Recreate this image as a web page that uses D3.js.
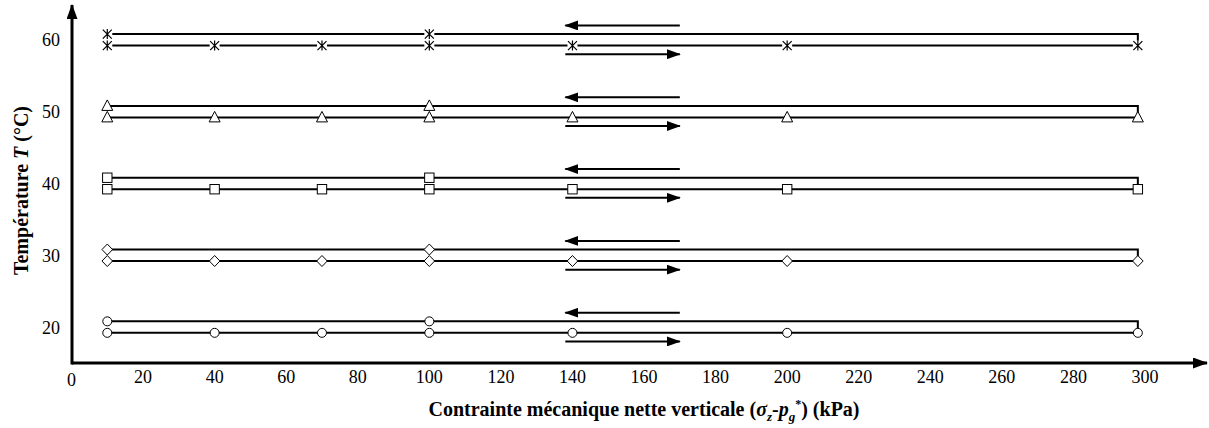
<!DOCTYPE html>
<html>
<head>
<meta charset="utf-8">
<script src="https://cdn.jsdelivr.net/npm/d3@7/dist/d3.min.js"></script>
</head>
<body style="margin:0;background:#fff">
<svg id="c" width="1209" height="428" style="display:block"></svg>
<script>
// ---- data ----
const temperatures = [20, 30, 40, 50, 60];
const markerTypes = ["circle", "diamond", "square", "triangle", "asterisk"];
const loadingT = [19.2, 29.2, 39.2, 49.2, 59.2];     // loading path (lower line)
const unloadingT = [20.8, 30.8, 40.8, 50.8, 60.8];   // unloading path (upper line)
const loadingX = [10, 40, 70, 100, 140, 200, 298];   // loading stress steps (kPa)
const unloadingX = [298, 100, 10];                   // unloading stress steps (kPa)
const unloadMarkerX = [100, 10];                     // marked points on unloading
const arrowLoadX = [138, 170];                       // arrow pointing right (loading)
const arrowUnloadX = [170, 138];                     // arrow pointing left (unloading)
const arrowOffsetT = 1.2;
const xTicks = [0, 20, 40, 60, 80, 100, 120, 140, 160, 180, 200, 220, 240, 260, 280, 300];
const yTicks = [20, 30, 40, 50, 60];

// ---- scales ----
const svg = d3.select("#c");
const x = d3.scaleLinear().domain([0, 300]).range([71.5, 1145]);
const y = d3.scaleLinear().domain([15, 60]).range([363, 39.85]);
const x0 = 72, yAxisBottom = y(15);
const FONT = '"Liberation Serif", "Times New Roman", Times, serif';
function serif(sel) { return sel.attr("font-family", "Liberation Serif").style("font-family", FONT, "important"); }

// ---- arrow markers ----
const defs = svg.append("defs");
defs.append("marker").attr("id", "ah").attr("viewBox", "0 0 14 10")
  .attr("refX", 13).attr("refY", 5).attr("markerWidth", 14).attr("markerHeight", 10)
  .attr("markerUnits", "userSpaceOnUse").attr("orient", "auto")
  .append("path").attr("d", "M0,0 L14,5 L0,10 Z").attr("fill", "#000");
defs.append("marker").attr("id", "axh").attr("viewBox", "0 0 15 11")
  .attr("refX", 14).attr("refY", 5.5).attr("markerWidth", 15).attr("markerHeight", 11)
  .attr("markerUnits", "userSpaceOnUse").attr("orient", "auto")
  .append("path").attr("d", "M0,0 L15,5.5 L0,11 Z").attr("fill", "#000");

// ---- axes ----
svg.append("line").attr("x1", x0).attr("y1", yAxisBottom).attr("x2", 1207).attr("y2", yAxisBottom)
  .attr("stroke", "#000").attr("stroke-width", 3).attr("marker-end", "url(#axh)");
svg.append("line").attr("x1", x0).attr("y1", yAxisBottom + 1.5).attr("x2", x0).attr("y2", 5)
  .attr("stroke", "#000").attr("stroke-width", 3).attr("marker-end", "url(#axh)");

serif(svg.append("g").selectAll("text").data(xTicks).join("text"))
  .attr("x", d => x(d)).attr("y", d => d === 0 ? 386 : 383)
  .attr("text-anchor", "middle").attr("font-size", 18).text(d => d);
serif(svg.append("g").selectAll("text").data(yTicks).join("text"))
  .attr("x", 60).attr("y", d => y(d) + 6.5)
  .attr("text-anchor", "end").attr("font-size", 18).text(d => d);

// axis titles
const xl = serif(svg.append("text")).attr("x", 644).attr("y", 416).attr("text-anchor", "middle")
  .attr("font-size", 20).attr("font-weight", "bold");
xl.append("tspan").text("Contrainte mécanique nette verticale (");
xl.append("tspan").attr("font-style", "italic").text("σ");
xl.append("tspan").attr("font-style", "italic").attr("font-size", 13).attr("dy", 5).text("z");
xl.append("tspan").attr("dy", -5).text("-");
xl.append("tspan").attr("font-style", "italic").text("p");
xl.append("tspan").attr("font-style", "italic").attr("font-size", 13).attr("dy", 5).text("g");
xl.append("tspan").attr("font-size", 12).attr("dy", -13).text("*");
xl.append("tspan").attr("dy", 8).text(") (kPa)");

const yl = serif(svg.append("text")).attr("transform", "translate(28,190.5) rotate(-90)")
  .attr("text-anchor", "middle").attr("font-size", 20).attr("font-weight", "bold");
yl.append("tspan").text("Température ");
yl.append("tspan").attr("font-style", "italic").text("T");
yl.append("tspan").text(" (°C)");

// ---- series ----
const line = d3.line().x(d => x(d[0])).y(d => y(d[1]));

function drawMarker(g, type, cx, cy) {
  let m;
  if (type === "circle") m = g.append("circle").attr("cx", cx).attr("cy", cy).attr("r", 4.5);
  else if (type === "square") m = g.append("rect").attr("x", cx - 4.7).attr("y", cy - 4.7).attr("width", 9.4).attr("height", 9.4);
  else if (type === "diamond") m = g.append("path").attr("d", `M${cx},${cy-5.5} L${cx+5.3},${cy} L${cx},${cy+5.5} L${cx-5.3},${cy} Z`);
  else if (type === "triangle") m = g.append("path").attr("d", `M${cx},${cy-6} L${cx+5.5},${cy+4.5} L${cx-5.5},${cy+4.5} Z`);
  else {
    g.append("rect").attr("x", cx - 5).attr("y", cy - 5).attr("width", 10).attr("height", 10).attr("fill", "#fff");
    g.append("path").attr("d",
      `M${cx},${cy-5} L${cx},${cy+5} M${cx-4.5},${cy-4.5} L${cx+4.5},${cy+4.5} M${cx+4.5},${cy-4.5} L${cx-4.5},${cy+4.5}`)
      .attr("fill", "none").attr("stroke", "#000").attr("stroke-width", 1.2);
    return;
  }
  m.attr("fill", "#fff").attr("stroke", "#000").attr("stroke-width", 1);
}

temperatures.forEach((t, i) => {
  const g = svg.append("g");
  const lo = loadingT[i], up = unloadingT[i];
  const loadPts = loadingX.map(v => [v, lo]);
  const unloadPts = [[unloadingX[0], lo]].concat(unloadingX.map(v => [v, up]));
  g.append("path").attr("d", line(loadPts)).attr("fill", "none").attr("stroke", "#000").attr("stroke-width", 2);
  g.append("path").attr("d", line(unloadPts)).attr("fill", "none").attr("stroke", "#000").attr("stroke-width", 2);
  // arrows
  g.append("line").attr("x1", x(arrowUnloadX[0])).attr("x2", x(arrowUnloadX[1]))
    .attr("y1", y(up + arrowOffsetT)).attr("y2", y(up + arrowOffsetT))
    .attr("stroke", "#000").attr("stroke-width", 2).attr("marker-end", "url(#ah)");
  g.append("line").attr("x1", x(arrowLoadX[0])).attr("x2", x(arrowLoadX[1]))
    .attr("y1", y(lo - arrowOffsetT)).attr("y2", y(lo - arrowOffsetT))
    .attr("stroke", "#000").attr("stroke-width", 2).attr("marker-end", "url(#ah)");
  // markers
  loadingX.forEach(v => drawMarker(g, markerTypes[i], x(v), y(lo)));
  unloadMarkerX.forEach(v => drawMarker(g, markerTypes[i], x(v), y(up)));
});
</script>
</body>
</html>
